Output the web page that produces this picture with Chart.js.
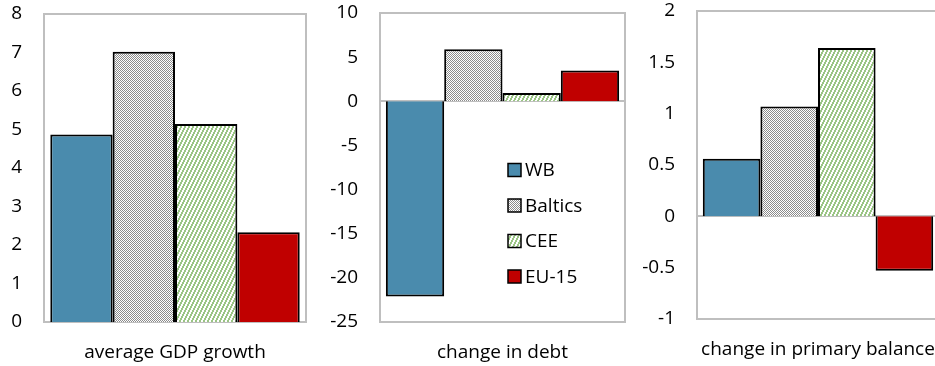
<!DOCTYPE html>
<html>
<head>
<meta charset="utf-8">
<script src="https://cdn.jsdelivr.net/npm/chart.js@4"></script>
<style>
    html, body { margin: 0; padding: 0; background: #fff; overflow: hidden; }
    body { width: 935px; height: 366px; position: relative; }
    .panel { position: absolute; top: 0; }
    canvas { display: block; }
</style>
</head>
<body>
<div class="panel" style="left:0px"><canvas id="gdpChart" width="310" height="366"></canvas></div>
<div class="panel" style="left:320px"><canvas id="debtChart" width="310" height="366"></canvas></div>
<div class="panel" style="left:640px"><canvas id="balanceChart" width="310" height="366"></canvas></div>
<script>
// Country groups and values
const groups = ['WB', 'Baltics', 'CEE', 'EU-15'];
const gdpGrowth = [4.87, 7.02, 5.14, 2.33];
const debtChange = [-22.1, 5.9, 0.95, 3.5];
const primaryBalanceChange = [0.56, 1.07, 1.64, -0.53];

// Panel captions
const panelLabels = ['average GDP growth', 'change in debt', 'change in primary balance'];

// Axis ranges: [min, max, step]
const gdpTicks = [0, 8, 1];
const debtTicks = [-25, 10, 5];
const balanceTicks = [-1, 2, 0.5];

const FONT = '"Open Sans", "Noto Sans", sans-serif';
const FRAME = '#BFBFBF';

// Fill patterns
function checkerPattern() {
    const c = document.createElement('canvas');
    c.width = 2; c.height = 2;
    const g = c.getContext('2d');
    g.fillStyle = '#ffffff';
    g.fillRect(0, 0, 2, 2);
    g.fillStyle = '#8C8C8C';
    g.fillRect(0, 0, 1, 1);
    g.fillRect(1, 1, 1, 1);
    return g.createPattern(c, 'repeat');
}

function stripePattern() {
    const c = document.createElement('canvas');
    c.width = 4; c.height = 8;
    const g = c.getContext('2d');
    g.fillStyle = '#ffffff';
    g.fillRect(0, 0, 4, 8);
    g.fillStyle = '#9BC585';
    for (let y = 0; y < 8; y++) {
        const x = Math.floor((7 - y) / 2);
        g.fillRect(x, y, 1, 1);
        g.fillRect((x + 1) % 4, y, 1, 1);
    }
    return g.createPattern(c, 'repeat');
}

const fills = ['#4A8BAD', checkerPattern(), stripePattern(), '#C00000'];

// Gray frame around the plot area plus the zero line
const framePlugin = {
    id: 'frame',
    beforeDatasetsDraw(chart) {
        const { ctx, chartArea: a, scales } = chart;
        ctx.save();
        ctx.strokeStyle = FRAME;
        ctx.lineWidth = 2;
        ctx.strokeRect(a.left, a.top, a.right - a.left, a.bottom - a.top);
        const y0 = Math.round(scales.y.getPixelForValue(0));
        ctx.beginPath();
        ctx.moveTo(a.left, y0);
        ctx.lineTo(a.right, y0);
        ctx.stroke();
        ctx.restore();
    }
};

// Legend drawn inside the debt panel
const legendPlugin = {
    id: 'groupLegend',
    afterDraw(chart, args, opts) {
        if (!opts.show) return;
        const { ctx } = chart;
        ctx.save();
        ctx.font = '19px ' + FONT;
        ctx.textBaseline = 'middle';
        chart.data.datasets.forEach((ds, i) => {
            const y = opts.y + i * opts.spacing;
            ctx.fillStyle = ds.backgroundColor;
            ctx.fillRect(opts.x, y - 6.5, 13, 13);
            ctx.strokeStyle = '#000';
            ctx.lineWidth = 1.5;
            ctx.strokeRect(opts.x, y - 6.5, 13, 13);
            ctx.fillStyle = '#000';
            ctx.fillText(ds.label, opts.x + 17, y + 1);
        });
        ctx.restore();
    }
};

function makePanel(id, caption, values, ticks, area, legend) {
    const canvas = document.getElementById(id);
    return new Chart(canvas, {
        type: 'bar',
        data: {
            labels: [caption],
            datasets: groups.map((name, i) => ({
                label: name,
                data: [values[i]],
                backgroundColor: fills[i],
                borderColor: '#000',
                borderWidth: 2,
                categoryPercentage: 0.952,
                barPercentage: 1
            }))
        },
        options: {
            responsive: false,
            animation: false,
            layout: {
                padding: { top: area.top, right: canvas.width - area.right, left: 0, bottom: 0 }
            },
            plugins: {
                legend: { display: false },
                tooltip: { enabled: false },
                groupLegend: legend || { show: false }
            },
            scales: {
                x: {
                    grid: { display: false, drawTicks: false },
                    border: { display: false },
                    ticks: { color: '#000', font: { family: FONT, size: 19 }, padding: 19 },
                    afterFit(scale) {
                        scale.height = canvas.height - area.bottom;
                        scale.paddingLeft = 0;
                        scale.paddingRight = 0;
                    }
                },
                y: {
                    min: ticks[0],
                    max: ticks[1],
                    grid: { display: false, drawTicks: false },
                    border: { display: false },
                    ticks: {
                        stepSize: ticks[2],
                        color: '#000',
                        font: { family: FONT, size: 19 },
                        padding: 22,
                        callback: v => String(v)
                    },
                    afterFit(scale) {
                        // keep the plot area fixed; labels may overhang
                        scale.width = area.left;
                        scale.paddingTop = 0;
                        scale.paddingBottom = 0;
                    }
                }
            }
        },
        plugins: [framePlugin, legendPlugin]
    });
}

makePanel('gdpChart', panelLabels[0], gdpGrowth, gdpTicks,
    { left: 44, right: 306, top: 14, bottom: 322 });
makePanel('debtChart', panelLabels[1], debtChange, debtTicks,
    { left: 60, right: 305, top: 13, bottom: 322 },
    { show: true, x: 188, y: 170, spacing: 35.5 });
makePanel('balanceChart', panelLabels[2], primaryBalanceChange, balanceTicks,
    { left: 57, right: 299, top: 11, bottom: 319 });
</script>
</body>
</html>
